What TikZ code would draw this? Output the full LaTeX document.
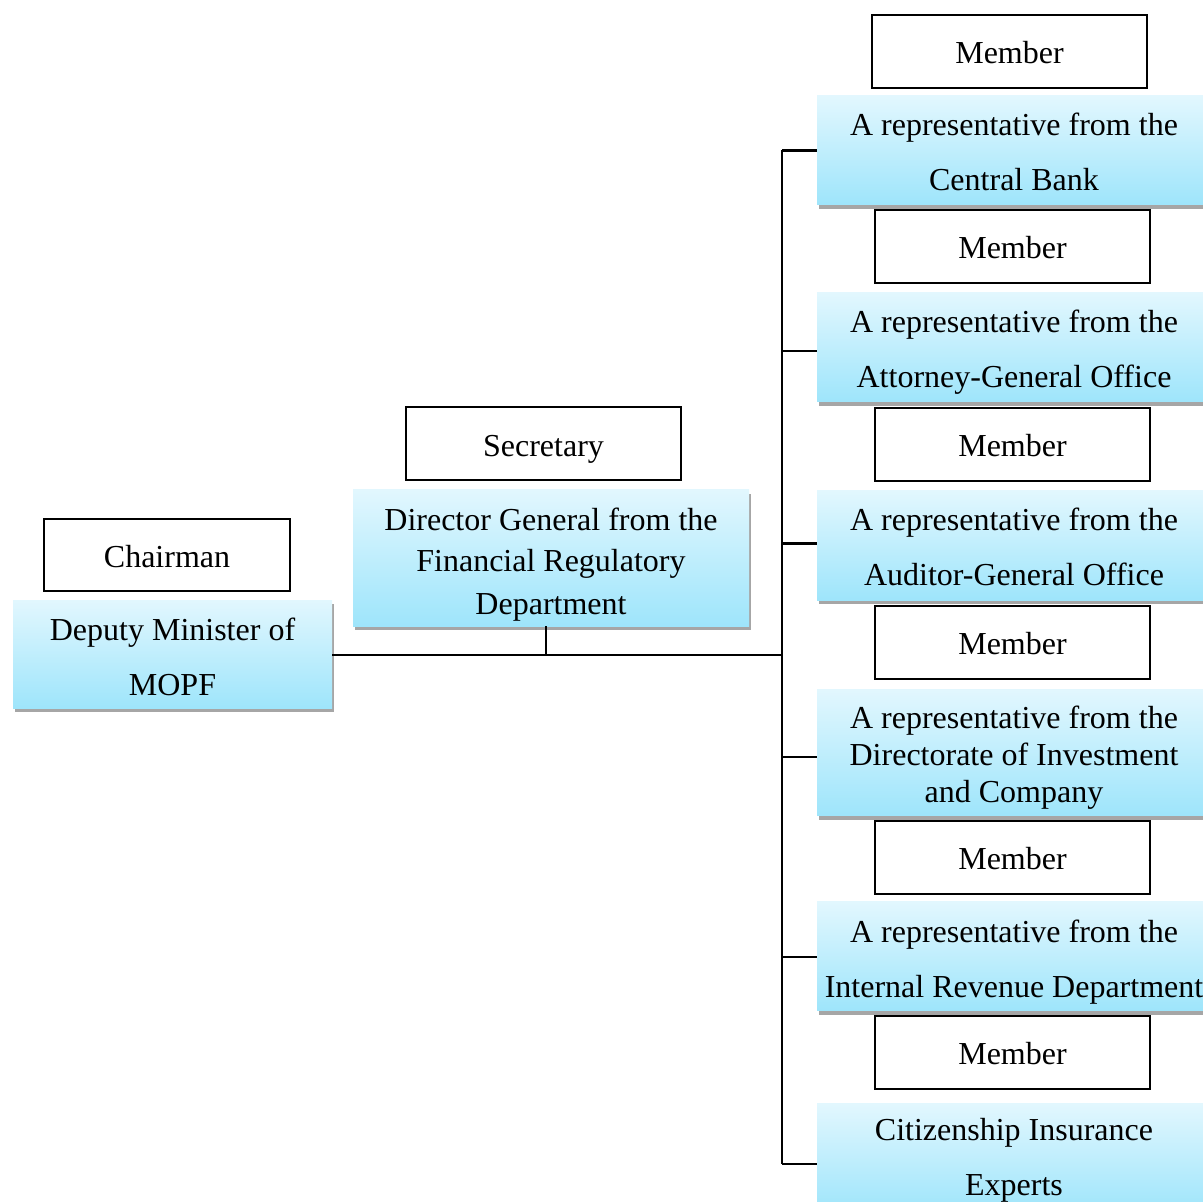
\documentclass[tikz,border=0pt]{standalone}
\usepackage{fontspec}
\setmainfont{Liberation Serif}
\usetikzlibrary{shadows}
\definecolor{skytop}{RGB}{226,247,254}
\definecolor{skybot}{RGB}{158,229,251}
\begin{document}
\begin{tikzpicture}[
    x=0.5pt, y=-0.5pt,
    member/.style={draw, line width=1pt, fill=white, minimum width=137.5pt, minimum height=36.5pt,
        inner sep=0pt, text depth=0pt, text height=12.5pt, font=\fontsize{16}{19}\selectfont},
    post/.style={top color=skytop, bottom color=skybot, draw=none, minimum width=197pt, minimum height=54.5pt,
        inner sep=0pt, align=center, text depth=0pt, text height=40pt, font=\fontsize{16}{27.5}\selectfont,
        drop shadow={shadow xshift=1pt, shadow yshift=-2pt, opacity=0.35, fill=black}},
    link/.style={line width=1.25pt}
]
    \useasboundingbox (0,0) rectangle (1203,1202);

    % Chairman on the left
    \node[member, minimum width=123pt, minimum height=36pt] (chair) at (167,555) {Chairman};
    \node[post, minimum width=159.5pt, minimum height=54pt, text height=41.5pt] (dep) at (172.5,654)
        {Deputy Minister of\\MOPF};

    % Secretary in the middle
    \node[member, text height=13pt] (sec) at (543.5,443.5) {Secretary};
    \node[post, minimum width=198pt, minimum height=68pt, text height=56pt, font=\fontsize{16}{21}\selectfont]
        (dir) at (551,558) {Director General from the\\Financial Regulatory\\Department};

    % Members on the right
    \node[member] (m1) at (1009.5,51.5) {Member};
    \node[post, text height=40.5pt] (rep1) at (1014,150.5) {A representative from the\\Central Bank};
    \node[member] (m2) at (1012.5,246.5) {Member};
    \node[post, text height=40pt] (rep2) at (1014,347.5) {A representative from the\\Attorney-General Office};
    \node[member] (m3) at (1012.5,444.5) {Member};
    \node[post, text height=39.5pt] (rep3) at (1014,545.5) {A representative from the\\Auditor-General Office};
    \node[member] (m4) at (1012.5,642) {Member};
    \node[post, minimum height=63pt, text height=49.5pt, font=\fontsize{16}{18.5}\selectfont] (rep4) at (1014,752.5)
        {A representative from the\\Directorate of Investment\\and Company};
    \node[member] (m5) at (1012.5,857) {Member};
    \node[post, text height=41.5pt] (rep5) at (1014,956) {A representative from the\\Internal Revenue Department};
    \node[member] (m6) at (1012.5,1052) {Member};
    \node[post, text height=38.5pt, text depth=1.4pt] (rep6) at (1014,1158) {Citizenship Insurance\\Experts};

    % Connectors
    \coordinate (bus) at (782,655);
    \draw[link] (dep.east |- bus) -- (bus);
    \draw[link] ([xshift=-2.5pt]dir.south) -- ([xshift=-2.5pt]dir.south |- bus);
    \foreach \n/\dy in {rep1/0,rep2/-1.75,rep3/1,rep4/-2.25,rep5/-0.5,rep6/-3}
        \draw[link] ([yshift=\dy pt]\n.west) -- ([yshift=\dy pt]\n.west -| bus);
    \draw[link] (rep1.west -| bus) -- ([yshift=-3pt]rep6.west -| bus);

\end{tikzpicture}
\end{document}
